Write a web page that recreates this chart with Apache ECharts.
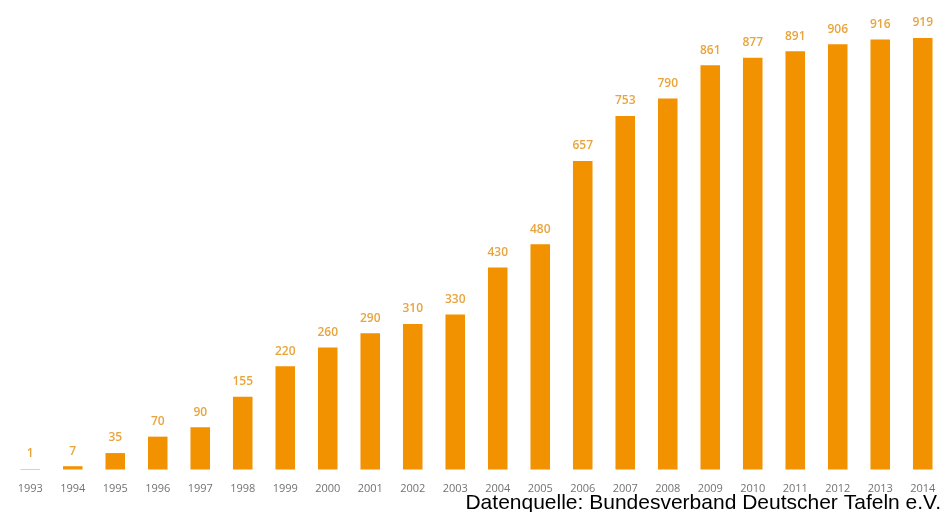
<!DOCTYPE html>
<html>
<head>
<meta charset="utf-8">
<script src="https://cdn.jsdelivr.net/npm/echarts@6/dist/echarts.min.js"></script>
<style>
html,body{margin:0;padding:0;background:#fff;}
#c{width:944px;height:512px;}
</style>
</head>
<body>
<div id="c"></div>
<script>
const years = ['1993','1994','1995','1996','1997','1998','1999','2000','2001','2002','2003','2004','2005','2006','2007','2008','2009','2010','2011','2012','2013','2014'];
const tafeln = [1,7,35,70,90,155,220,260,290,310,330,430,480,657,753,790,861,877,891,906,916,919];
const sourceText = 'Datenquelle: Bundesverband Deutscher Tafeln e.V.';

const chart = echarts.init(document.getElementById('c'));
chart.setOption({
  backgroundColor: '#ffffff',
  animation: false,
  grid: {left: 9, right: -2, top: -2, bottom: 42.5},
  xAxis: {
    type: 'category',
    data: years,
    axisLine: {show: false},
    axisTick: {show: false},
    axisLabel: {color: '#727272', fontSize: 11, fontFamily: 'Open Sans', margin: 14}
  },
  yAxis: {
    type: 'value', min: 0, max: 1000,
    show: false,
    splitLine: {show: false}
  },
  series: [{
    type: 'bar',
    data: tafeln,
    barWidth: '46%',
    itemStyle: {color: '#F39200'},
    label: {
      show: true, position: 'top', distance: 9,
      color: '#E9A43C', fontSize: 12, fontWeight: 600, fontFamily: 'Open Sans'
    }
  }],
  graphic: [{
    type: 'text', x: 941, y: 503,
    style: {text: sourceText, fill: '#000000', align: 'right', verticalAlign: 'middle',
            font: '21px "Liberation Sans", Arial, sans-serif'}
  }]
});
</script>
</body>
</html>
